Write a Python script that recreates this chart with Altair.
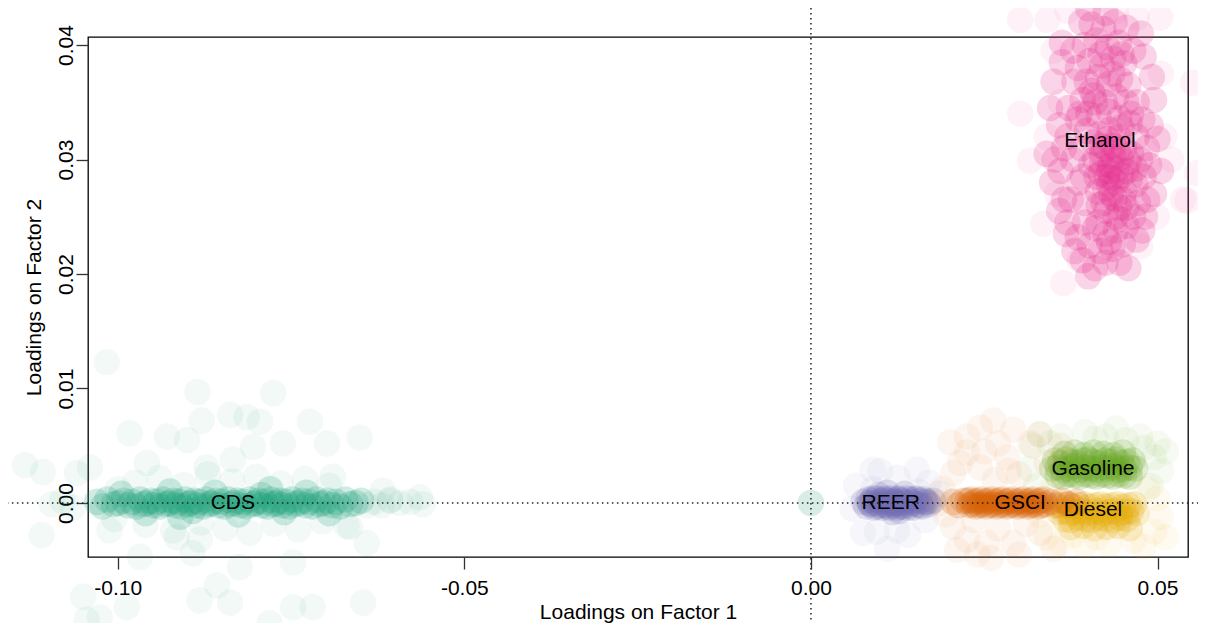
import altair as alt
import pandas as pd

groups = ["CDS", "REER", "Gasoline", "Diesel", "GSCI", "Ethanol"]
colors = ["#1B9E77", "#7570B3", "#66A61E", "#E6AB02", "#D95F02", "#E7298A"]

# ---- CDS ----
cds_core = [
    (-0.1030, 0.0001), (-0.1022, -0.0003), (-0.1015, 0.0003), (-0.1006, -0.0001), (-0.0999, 0.0000), (-0.0992, 0.0002), (-0.0985, -0.0002),
    (-0.0979, 0.0001), (-0.0973, -0.0003), (-0.0968, 0.0003), (-0.0963, -0.0001), (-0.0958, 0.0000), (-0.0953, 0.0002), (-0.0948, -0.0002),
    (-0.0944, 0.0001), (-0.0939, -0.0003), (-0.0935, 0.0003), (-0.0930, -0.0001), (-0.0926, 0.0000), (-0.0921, 0.0002), (-0.0917, -0.0002),
    (-0.0912, 0.0001), (-0.0908, -0.0003), (-0.0903, 0.0003), (-0.0899, -0.0001), (-0.0895, 0.0000), (-0.0890, 0.0002), (-0.0886, -0.0002),
    (-0.0882, 0.0001), (-0.0877, -0.0003), (-0.0873, 0.0003), (-0.0868, -0.0001), (-0.0864, 0.0000), (-0.0859, 0.0002), (-0.0855, -0.0002),
    (-0.0850, 0.0001), (-0.0846, -0.0003), (-0.0841, 0.0003), (-0.0837, -0.0001), (-0.0832, 0.0000), (-0.0828, 0.0002), (-0.0823, -0.0002),
    (-0.0819, 0.0001), (-0.0814, -0.0003), (-0.0810, 0.0003), (-0.0805, -0.0001), (-0.0801, 0.0000), (-0.0797, 0.0002), (-0.0792, -0.0002),
    (-0.0788, 0.0001), (-0.0784, -0.0003), (-0.0779, 0.0003), (-0.0775, -0.0001), (-0.0771, 0.0000), (-0.0766, 0.0002), (-0.0762, -0.0002),
    (-0.0757, 0.0001), (-0.0753, -0.0003), (-0.0748, 0.0003), (-0.0744, -0.0001), (-0.0739, 0.0000), (-0.0734, 0.0002), (-0.0729, -0.0002),
    (-0.0724, 0.0001), (-0.0719, -0.0003), (-0.0714, 0.0003), (-0.0709, -0.0001), (-0.0703, 0.0000), (-0.0697, 0.0002), (-0.0691, -0.0002),
    (-0.0685, 0.0001), (-0.0679, -0.0003), (-0.0672, 0.0003), (-0.0665, -0.0001), (-0.0657, 0.0000), (-0.0649, 0.0002),
    (-0.0995, 0.0008), (-0.0960, -0.0009), (-0.0925, 0.0010), (-0.0892, -0.0007), (-0.0860, 0.0009), (-0.0826, -0.0010),
    (-0.0793, 0.0007), (-0.0760, -0.0008), (-0.0728, 0.0009), (-0.0695, -0.0009), (-0.0910, -0.0012), (-0.0780, 0.0012),
]
cds_spread = [
    (-0.0640, -0.0002), (-0.0630, 0.0001), (-0.0619, -0.0002), (-0.0607, 0.0002), (-0.0593, 0.0000), (-0.0578, 0.0001), (-0.0560, -0.0001),
    (-0.1080, 0.0002), (-0.1065, -0.0004), (-0.1095, -0.0001),
    (-0.0975, 0.0018), (-0.0940, 0.0022), (-0.0905, 0.0016), (-0.0870, 0.0025), (-0.0835, 0.0019), (-0.0800, 0.0023),
    (-0.0765, 0.0017), (-0.0730, 0.0021), (-0.0695, 0.0015), (-0.0960, -0.0019), (-0.0920, -0.0024), (-0.0880, -0.0017),
    (-0.0845, -0.0022), (-0.0810, -0.0026), (-0.0775, -0.0018), (-0.0740, -0.0023), (-0.0705, -0.0016), (-0.0670, -0.0020),
    (-0.1000, 0.0012), (-0.1005, -0.0014),
    (-0.1016, 0.0123), (-0.0885, 0.0097), (-0.0776, 0.0096), (-0.0879, 0.0072), (-0.0838, 0.0077), (-0.0814, 0.0075),
    (-0.0795, 0.0071), (-0.0723, 0.0071), (-0.0651, 0.0057), (-0.0983, 0.0061), (-0.0929, 0.0058), (-0.0900, 0.0055),
    (-0.0805, 0.0049), (-0.0762, 0.0052), (-0.0698, 0.0052), (-0.1134, 0.0033), (-0.1108, 0.0027), (-0.1040, 0.0031),
    (-0.0958, 0.0035), (-0.0872, 0.0031), (-0.0834, 0.0038), (-0.0690, 0.0023), (-0.0618, 0.0011), (-0.0564, 0.0005),
    (-0.0607, 0.0003), (-0.1059, 0.0026), (-0.1110, -0.0028), (-0.1012, -0.0024), (-0.0915, -0.0030), (-0.0882, -0.0032),
    (-0.0824, -0.0056), (-0.0747, -0.0052), (-0.0665, -0.0021), (-0.0641, -0.0035), (-0.0892, -0.0044), (-0.0968, -0.0047),
    (-0.1050, -0.0082), (-0.1045, -0.0102), (-0.0987, -0.0091), (-0.0882, -0.0085), (-0.0857, -0.0072), (-0.0838, -0.0087),
    (-0.0781, -0.0105), (-0.0747, -0.0091), (-0.0719, -0.0091), (-0.0646, -0.0087), (-0.1026, -0.0100),
    (0.0000, 0.0000), (0.0000, 0.0000), (0.0000, 0.0000),
]

# ---- REER ----
reer_core = [
    (0.0076, 0.0001), (0.0080, -0.0003), (0.0083, 0.0003), (0.0086, -0.0001), (0.0089, 0.0002), (0.0091, -0.0004),
    (0.0094, 0.0000), (0.0096, 0.0004), (0.0099, -0.0002), (0.0101, 0.0001), (0.0103, -0.0004), (0.0106, 0.0003),
    (0.0108, -0.0001), (0.0110, 0.0002), (0.0112, -0.0003), (0.0115, 0.0000), (0.0117, 0.0004), (0.0119, -0.0002),
    (0.0121, 0.0001), (0.0124, -0.0004), (0.0126, 0.0003), (0.0128, -0.0001), (0.0131, 0.0002), (0.0133, -0.0003),
    (0.0136, 0.0000), (0.0138, 0.0004), (0.0141, -0.0002), (0.0144, 0.0001), (0.0147, -0.0004), (0.0150, 0.0003),
    (0.0153, -0.0001), (0.0157, 0.0002), (0.0161, -0.0003), (0.0165, 0.0001), (0.0170, -0.0001), (0.0176, 0.0002),
    (0.0098, 0.0007), (0.0118, -0.0008), (0.0135, 0.0008), (0.0110, 0.0009), (0.0128, -0.0007),
    (0.0085, 0.0000), (0.0090, 0.0004), (0.0095, -0.0003), (0.0100, 0.0002), (0.0105, -0.0002), (0.0109, 0.0004),
    (0.0113, -0.0004), (0.0118, 0.0002), (0.0122, -0.0001), (0.0127, 0.0004), (0.0130, -0.0003), (0.0134, 0.0001),
    (0.0139, -0.0004), (0.0143, 0.0003), (0.0148, 0.0000), (0.0152, 0.0004), (0.0158, -0.0002), (0.0163, 0.0003),
    (0.0168, 0.0001), (0.0120, 0.0000),
]
reer_spread = [
    (0.0065, 0.0015), (0.0089, 0.0029), (0.0100, 0.0028), (0.0125, 0.0022), (0.0153, 0.0029), (0.0170, 0.0018),
    (0.0185, 0.0008), (0.0060, -0.0005), (0.0075, -0.0026), (0.0095, -0.0025), (0.0124, -0.0024), (0.0140, -0.0028),
    (0.0165, -0.0015), (0.0110, -0.0040), (0.0090, 0.0012), (0.0155, 0.0010),
]

# ---- GSCI ----
gsci_core = [
    (0.0226, 0.0002), (0.0231, 0.0003), (0.0236, 0.0001), (0.0241, 0.0002), (0.0246, 0.0003), (0.0251, 0.0001),
    (0.0256, 0.0002), (0.0261, 0.0003), (0.0266, 0.0001), (0.0271, 0.0002), (0.0276, 0.0003), (0.0281, 0.0001),
    (0.0286, 0.0002), (0.0291, 0.0003), (0.0296, 0.0001), (0.0301, 0.0002), (0.0306, 0.0003), (0.0311, 0.0001),
    (0.0316, 0.0002), (0.0321, 0.0003), (0.0326, 0.0001), (0.0331, 0.0002), (0.0336, 0.0003),
    (0.0228, -0.0002), (0.0233, -0.0001), (0.0238, -0.0003), (0.0243, -0.0002), (0.0248, -0.0001), (0.0253, -0.0003),
    (0.0258, -0.0002), (0.0263, -0.0001), (0.0268, -0.0003), (0.0273, -0.0002), (0.0278, -0.0001), (0.0283, -0.0003),
    (0.0288, -0.0002), (0.0293, -0.0001), (0.0298, -0.0003), (0.0303, -0.0002), (0.0308, -0.0001), (0.0313, -0.0003),
    (0.0318, -0.0002), (0.0323, -0.0001), (0.0328, -0.0003), (0.0333, -0.0002), (0.0338, -0.0001),
    (0.0205, 0.0001), (0.0213, -0.0002), (0.0220, 0.0002), (0.0346, 0.0001), (0.0354, -0.0002), (0.0362, 0.0002),
    (0.0372, -0.0001), (0.0383, 0.0001),
]
gsci_spread = [
    (0.0201, 0.0053), (0.0244, 0.0066), (0.0263, 0.0072), (0.0292, 0.0064), (0.0225, 0.0044), (0.0205, 0.0026),
    (0.0244, 0.0031), (0.0283, 0.0040), (0.0316, 0.0052), (0.0205, -0.0021), (0.0225, -0.0032), (0.0254, -0.0035),
    (0.0292, -0.0035), (0.0330, -0.0026), (0.0211, -0.0041), (0.0185, 0.0000), (0.0190, 0.0012), (0.0265, 0.0020),
    (0.0300, 0.0025), (0.0340, 0.0035), (0.0235, -0.0015), (0.0270, -0.0022), (0.0310, -0.0018), (0.0260, -0.0048),
    (0.0350, -0.0040), (0.0225, 0.0058), (0.0270, 0.0052), (0.0330, 0.0060), (0.0360, 0.0050),
    (0.0250, 0.0045), (0.0285, 0.0028), (0.0215, 0.0035), (0.0240, -0.0045), (0.0300, -0.0045), (0.0195, -0.0010),
]

# ---- Gasoline ----
gasoline_core = [
    (0.0352, 0.0037), (0.0360, 0.0035), (0.0368, 0.0038), (0.0376, 0.0036), (0.0384, 0.0035), (0.0392, 0.0037),
    (0.0400, 0.0038), (0.0408, 0.0036), (0.0416, 0.0035), (0.0424, 0.0037), (0.0432, 0.0036), (0.0440, 0.0038),
    (0.0448, 0.0035), (0.0456, 0.0036), (0.0464, 0.0037),
    (0.0348, 0.0030), (0.0356, 0.0031), (0.0364, 0.0029), (0.0372, 0.0030), (0.0380, 0.0032), (0.0388, 0.0029),
    (0.0396, 0.0031), (0.0404, 0.0030), (0.0412, 0.0029), (0.0420, 0.0031), (0.0428, 0.0030), (0.0436, 0.0032),
    (0.0444, 0.0029), (0.0452, 0.0030), (0.0460, 0.0031), (0.0468, 0.0030),
    (0.0356, 0.0024), (0.0364, 0.0023), (0.0372, 0.0025), (0.0380, 0.0024), (0.0388, 0.0023), (0.0396, 0.0025),
    (0.0404, 0.0024), (0.0412, 0.0023), (0.0420, 0.0025), (0.0428, 0.0024), (0.0436, 0.0023), (0.0444, 0.0025),
    (0.0452, 0.0024), (0.0460, 0.0023),
    (0.0366, 0.0043), (0.0380, 0.0044), (0.0394, 0.0042), (0.0408, 0.0044), (0.0422, 0.0043), (0.0436, 0.0042),
    (0.0450, 0.0044),
]
gasoline_spread = [
    (0.0320, 0.0050), (0.0330, 0.0060), (0.0360, 0.0058), (0.0395, 0.0062), (0.0425, 0.0058), (0.0455, 0.0055),
    (0.0480, 0.0048), (0.0495, 0.0040), (0.0505, 0.0028), (0.0500, 0.0052), (0.0315, 0.0030), (0.0325, 0.0015),
    (0.0490, 0.0015), (0.0440, 0.0065), (0.0512, 0.0045), (0.0345, 0.0052), (0.0410, 0.0056), (0.0475, 0.0058),
]

# ---- Diesel ----
diesel_core = [
    (0.0362, -0.0002), (0.0370, -0.0001), (0.0378, -0.0003), (0.0386, -0.0002), (0.0394, -0.0001), (0.0402, -0.0003),
    (0.0410, -0.0002), (0.0418, -0.0001), (0.0426, -0.0003), (0.0434, -0.0002), (0.0442, -0.0001), (0.0450, -0.0003),
    (0.0458, -0.0002), (0.0466, -0.0001),
    (0.0358, -0.0008), (0.0366, -0.0007), (0.0374, -0.0009), (0.0382, -0.0008), (0.0390, -0.0007), (0.0398, -0.0009),
    (0.0406, -0.0008), (0.0414, -0.0007), (0.0422, -0.0009), (0.0430, -0.0008), (0.0438, -0.0007), (0.0446, -0.0009),
    (0.0454, -0.0008), (0.0462, -0.0007), (0.0470, -0.0009),
    (0.0366, -0.0014), (0.0376, -0.0015), (0.0386, -0.0013), (0.0396, -0.0014), (0.0406, -0.0015), (0.0416, -0.0013),
    (0.0426, -0.0014), (0.0436, -0.0015), (0.0446, -0.0013), (0.0456, -0.0014),
    (0.0375, -0.0021), (0.0392, -0.0020), (0.0409, -0.0022), (0.0426, -0.0021), (0.0443, -0.0020), (0.0460, -0.0022),
]
diesel_spread = [
    (0.0330, -0.0010), (0.0340, -0.0030), (0.0360, -0.0035), (0.0395, -0.0037), (0.0430, -0.0036), (0.0465, -0.0033),
    (0.0495, -0.0025), (0.0505, -0.0012), (0.0500, 0.0004), (0.0512, -0.0030), (0.0345, 0.0010), (0.0485, 0.0012),
    (0.0480, -0.0038), (0.0412, -0.0030), (0.0378, -0.0028),
]

# ---- Ethanol ----
ethanol_core = [
    (0.0410, 0.0300), (0.0418, 0.0288), (0.0425, 0.0310), (0.0432, 0.0295), (0.0440, 0.0280), (0.0447, 0.0302),
    (0.0455, 0.0290), (0.0414, 0.0272), (0.0422, 0.0262), (0.0430, 0.0278), (0.0438, 0.0266), (0.0445, 0.0258),
    (0.0452, 0.0272), (0.0460, 0.0282), (0.0408, 0.0315), (0.0416, 0.0322), (0.0428, 0.0318), (0.0436, 0.0312),
    (0.0444, 0.0320), (0.0452, 0.0310), (0.0420, 0.0296), (0.0427, 0.0285), (0.0434, 0.0284), (0.0441, 0.0292),
    (0.0424, 0.0275), (0.0436, 0.0302), (0.0430, 0.0290), (0.0420, 0.0305), (0.0448, 0.0286), (0.0412, 0.0285),
    (0.0426, 0.0255), (0.0440, 0.0250), (0.0404, 0.0295), (0.0458, 0.0298), (0.0433, 0.0270), (0.0419, 0.0312),
    (0.0442, 0.0308), (0.0431, 0.0326), (0.0415, 0.0260), (0.0450, 0.0265),
    (0.0385, 0.0335), (0.0400, 0.0340), (0.0415, 0.0338), (0.0430, 0.0342), (0.0445, 0.0336), (0.0460, 0.0332),
    (0.0392, 0.0352), (0.0408, 0.0356), (0.0424, 0.0350), (0.0440, 0.0355), (0.0455, 0.0350), (0.0398, 0.0368),
    (0.0414, 0.0372), (0.0430, 0.0366), (0.0446, 0.0370), (0.0385, 0.0380), (0.0402, 0.0386), (0.0420, 0.0382),
    (0.0436, 0.0388), (0.0452, 0.0384), (0.0395, 0.0400), (0.0412, 0.0404), (0.0428, 0.0398), (0.0444, 0.0402),
    (0.0405, 0.0418), (0.0422, 0.0414), (0.0438, 0.0420),
    (0.0370, 0.0320), (0.0378, 0.0300), (0.0386, 0.0280), (0.0375, 0.0265), (0.0390, 0.0310), (0.0395, 0.0262),
    (0.0470, 0.0320), (0.0475, 0.0300), (0.0468, 0.0278), (0.0480, 0.0285), (0.0472, 0.0262), (0.0485, 0.0310),
    (0.0360, 0.0290), (0.0490, 0.0330),
    (0.0395, 0.0245), (0.0410, 0.0240), (0.0425, 0.0235), (0.0440, 0.0238), (0.0455, 0.0242), (0.0465, 0.0250),
    (0.0385, 0.0232), (0.0402, 0.0225), (0.0418, 0.0220), (0.0435, 0.0222), (0.0450, 0.0226), (0.0392, 0.0212),
    (0.0410, 0.0205), (0.0445, 0.0210),
    (0.0365, 0.0310), (0.0372, 0.0345), (0.0380, 0.0368), (0.0378, 0.0395), (0.0390, 0.0420), (0.0400, 0.0432),
    (0.0425, 0.0428), (0.0455, 0.0415), (0.0465, 0.0395), (0.0470, 0.0350), (0.0478, 0.0335), (0.0462, 0.0305),
    (0.0488, 0.0295), (0.0495, 0.0270), (0.0482, 0.0250), (0.0470, 0.0230), (0.0458, 0.0205), (0.0425, 0.0210),
    (0.0400, 0.0198), (0.0380, 0.0220), (0.0370, 0.0245), (0.0365, 0.0265), (0.0352, 0.0300), (0.0358, 0.0330),
    (0.0392, 0.0285), (0.0398, 0.0325), (0.0405, 0.0360), (0.0418, 0.0392), (0.0448, 0.0392), (0.0458, 0.0365),
    (0.0462, 0.0340), (0.0415, 0.0245), (0.0430, 0.0228), (0.0445, 0.0248), (0.0455, 0.0258), (0.0468, 0.0292),
    (0.0388, 0.0340), (0.0435, 0.0375), (0.0410, 0.0350), (0.0448, 0.0328),
    (0.0345, 0.0345), (0.0350, 0.0368), (0.0362, 0.0385), (0.0340, 0.0305), (0.0348, 0.0280), (0.0358, 0.0255),
    (0.0495, 0.0352), (0.0500, 0.0318), (0.0505, 0.0290), (0.0492, 0.0372), (0.0480, 0.0390), (0.0485, 0.0265),
    (0.0362, 0.0402), (0.0476, 0.0410), (0.0368, 0.0235), (0.0478, 0.0238),
]
ethanol_spread = [
    (0.0302, 0.0422), (0.0341, 0.0422), (0.0470, 0.0424), (0.0504, 0.0424), (0.0302, 0.0340), (0.0316, 0.0299),
    (0.0551, 0.0367), (0.0557, 0.0288), (0.0364, 0.0192), (0.0543, 0.0264), (0.0388, 0.0212), (0.0475, 0.0224),
    (0.0537, 0.0265), (0.0335, 0.0244), (0.0499, 0.0250), (0.0350, 0.0395), (0.0370, 0.0430), (0.0440, 0.0430),
    (0.0510, 0.0320), (0.0340, 0.0320), (0.0355, 0.0270), (0.0505, 0.0375), (0.0520, 0.0300), (0.0360, 0.0350),
]

label_names = ["CDS", "REER", "GSCI", "Gasoline", "Diesel", "Ethanol"]
label_x = [-0.0834, 0.0115, 0.0302, 0.0407, 0.0407, 0.0417]
label_y = [0.0000, 0.0000, 0.0000, 0.0030, -0.0006, 0.0316]

x_ticks = [-0.10, -0.05, 0.00, 0.05]
y_ticks = [0.00, 0.01, 0.02, 0.03, 0.04]

rows = []
for name, core, spread in [("CDS", cds_core, cds_spread), ("REER", reer_core, reer_spread),
                           ("Gasoline", gasoline_core, gasoline_spread), ("Diesel", diesel_core, diesel_spread),
                           ("GSCI", gsci_core, gsci_spread), ("Ethanol", ethanol_core, ethanol_spread)]:
    for x, y in spread:
        rows.append({"group": name, "part": "spread", "f1": x, "f2": y})
    for x, y in core:
        rows.append({"group": name, "part": "core", "f1": x, "f2": y})
points_df = pd.DataFrame(rows)

labels_df = pd.DataFrame({"name": label_names, "f1": label_x, "f2": label_y})

hline_df = pd.DataFrame({"f1": [-0.1160], "f1b": [0.0575], "f2": [0.0]})
vline_df = pd.DataFrame({"f1": [0.0], "f2": [-0.0115], "f2b": [0.0440]})

label_expr = "datum.value < 0 ? '-' + format(-datum.value, '.2f') : format(datum.value, '.2f')"

x_scale = alt.Scale(domain=[-0.1043, 0.0544], nice=False, zero=False)
y_scale = alt.Scale(domain=[-0.00472, 0.0407], nice=False, zero=False)

x_enc = alt.X("f1:Q", scale=x_scale, axis=alt.Axis(
    values=x_ticks, labelExpr=label_expr, title="Loadings on Factor 1",
    labelBaseline="top", labelPadding=8, labelFlush=False, labelOverlap=False,
    titleBaseline="alphabetic", titleY=61, titleX=550, titleAlign="center"))
y_enc = alt.Y("f2:Q", scale=y_scale, axis=alt.Axis(
    values=y_ticks, labelExpr=label_expr, title="Loadings on Factor 2",
    labelAngle=270, labelAlign="center", labelBaseline="alphabetic", labelPadding=4,
    labelFlush=False, labelOverlap=False,
    titleAngle=270, titleBaseline="alphabetic", titleAlign="center", titleX=-48, titleY=260))

points = alt.Chart(points_df).mark_circle(size=700, clip=False).encode(
    x=x_enc, y=y_enc,
    color=alt.Color("group:N", scale=alt.Scale(domain=groups, range=colors), legend=None),
    opacity=alt.Opacity("part:N", scale=alt.Scale(domain=["core", "spread"], range=[0.2, 0.06]), legend=None),
)

hline = alt.Chart(hline_df).mark_rule(clip=False, color="#222222", strokeWidth=1.5, strokeDash=[1.5, 3.5]).encode(
    x="f1:Q", x2="f1b:Q", y="f2:Q")
vline = alt.Chart(vline_df).mark_rule(clip=False, color="#222222", strokeWidth=1.5, strokeDash=[1.5, 3.5]).encode(
    x="f1:Q", y="f2:Q", y2="f2b:Q")

texts = alt.Chart(labels_df).mark_text(fontSize=21, color="black", align="center", baseline="middle",
                                       font="Liberation Sans", clip=False).encode(
    x="f1:Q", y="f2:Q", text="name:N")

chart = alt.layer(points, hline, vline, texts).properties(
    width=1100, height=520, autosize="none",
    padding={"left": 80, "top": 29, "right": 10, "bottom": 66},
).configure_view(
    stroke="black", strokeWidth=1.3
).configure_axis(
    labelFont="Liberation Sans", titleFont="Liberation Sans",
    labelFontSize=21, titleFontSize=21, labelColor="black", titleColor="black",
    titleFontWeight="normal", tickColor="#333333", tickSize=12, tickWidth=1.3,
    domain=False, grid=False,
)

chart.save("out.html", embed_options={"renderer": "svg", "actions": False})
